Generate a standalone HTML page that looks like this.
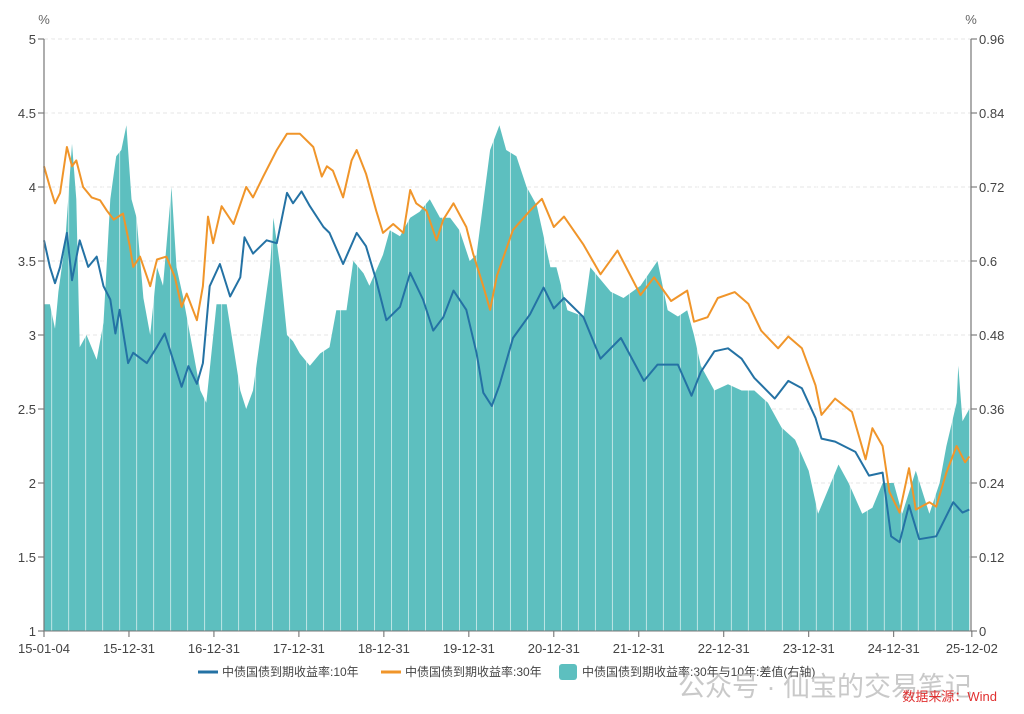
<!DOCTYPE html>
<html><head><meta charset="utf-8"><style>
html,body{margin:0;padding:0;background:#fff;}
body{width:1024px;height:714px;overflow:hidden;font-family:"Liberation Sans","Noto Sans CJK SC",sans-serif;}
</style></head><body>
<svg id="chart" width="1024" height="714" xmlns="http://www.w3.org/2000/svg" style="position:absolute;left:0;top:0">
<g id="grid"></g>
<g id="bars"></g>
<g id="lines"></g>
<g id="axes"></g>
<g id="legend">
  <line x1="198" y1="672" x2="218" y2="672" stroke="#2472a4" stroke-width="3"/>
  <text x="222" y="676" font-size="12" fill="#444">中债国债到期收益率:10年</text>
  <line x1="381" y1="672" x2="401" y2="672" stroke="#f0952a" stroke-width="3"/>
  <text x="405" y="676" font-size="12" fill="#444">中债国债到期收益率:30年</text>
  <rect x="559" y="664" width="18" height="16" rx="3" fill="#5dbfbf"/>
  <text x="582" y="676" font-size="12" fill="#444">中债国债到期收益率:30年与10年:差值(右轴)</text>
</g>
<text x="678" y="696" font-size="27" fill="#bbb" fill-opacity="0.8">公众号 · 仙宝的交易笔记</text>
<text x="997" y="701" font-size="13" fill="#e03030" text-anchor="end">数据来源：Wind</text>
</svg>
<script>
const leftTicks=[1,1.5,2,2.5,3,3.5,4,4.5,5];
const leftTickLabels=["1","1.5","2","2.5","3","3.5","4","4.5","5"];
const rightTicks=[0,0.12,0.24,0.36,0.48,0.6,0.72,0.84,0.96];
const rightTickLabels=["0","0.12","0.24","0.36","0.48","0.6","0.72","0.84","0.96"];
const xTicks=[2015.0,2016.0,2017.0,2018.0,2019.0,2020.0,2021.0,2022.0,2023.0,2024.0,2025.0,2025.92];
const xTickLabels=["15-01-04","15-12-31","16-12-31","17-12-31","18-12-31","19-12-31","20-12-31","21-12-31","22-12-31","23-12-31","24-12-31","25-12-02"];

const y10Dates=[2015.00,2015.07,2015.13,2015.19,2015.27,2015.33,2015.42,2015.52,2015.62,2015.70,2015.78,2015.84,2015.89,2015.99,2016.05,2016.21,2016.33,2016.42,2016.52,2016.62,2016.70,2016.80,2016.87,2016.95,2017.07,2017.19,2017.31,2017.36,2017.46,2017.62,2017.74,2017.86,2017.93,2018.03,2018.13,2018.29,2018.36,2018.52,2018.68,2018.79,2018.91,2019.03,2019.19,2019.31,2019.46,2019.58,2019.70,2019.82,2019.97,2020.09,2020.17,2020.27,2020.36,2020.52,2020.72,2020.88,2021.00,2021.12,2021.35,2021.55,2021.79,2022.06,2022.22,2022.46,2022.62,2022.73,2022.89,2023.05,2023.21,2023.36,2023.60,2023.76,2023.92,2024.08,2024.15,2024.31,2024.55,2024.71,2024.87,2024.97,2025.07,2025.18,2025.30,2025.50,2025.70,2025.81,2025.89];
const y10Values=[3.64,3.46,3.35,3.46,3.69,3.37,3.64,3.46,3.53,3.33,3.24,3.01,3.17,2.81,2.88,2.81,2.92,3.01,2.83,2.65,2.79,2.67,2.81,3.33,3.48,3.26,3.39,3.66,3.55,3.64,3.62,3.96,3.89,3.97,3.87,3.73,3.69,3.48,3.69,3.60,3.37,3.10,3.19,3.42,3.24,3.03,3.12,3.30,3.17,2.88,2.61,2.52,2.66,2.98,3.14,3.32,3.18,3.25,3.12,2.84,2.98,2.69,2.80,2.80,2.59,2.75,2.89,2.91,2.84,2.71,2.57,2.69,2.64,2.44,2.30,2.28,2.21,2.05,2.07,1.64,1.60,1.85,1.62,1.64,1.87,1.80,1.82];

const y30Dates=[2015.00,2015.07,2015.13,2015.19,2015.27,2015.33,2015.38,2015.46,2015.56,2015.66,2015.74,2015.82,2015.93,2016.01,2016.05,2016.13,2016.25,2016.33,2016.44,2016.54,2016.62,2016.68,2016.80,2016.87,2016.93,2016.99,2017.09,2017.23,2017.38,2017.46,2017.58,2017.74,2017.86,2018.01,2018.17,2018.27,2018.33,2018.40,2018.52,2018.62,2018.68,2018.79,2018.91,2018.99,2019.11,2019.23,2019.31,2019.38,2019.50,2019.62,2019.70,2019.82,2019.97,2020.05,2020.17,2020.25,2020.33,2020.52,2020.72,2020.86,2021.00,2021.12,2021.35,2021.55,2021.75,2022.02,2022.18,2022.38,2022.57,2022.65,2022.81,2022.93,2023.13,2023.29,2023.44,2023.64,2023.76,2023.92,2024.08,2024.15,2024.31,2024.51,2024.67,2024.75,2024.87,2024.95,2025.07,2025.18,2025.26,2025.42,2025.50,2025.62,2025.74,2025.84,2025.89];
const y30Values=[4.14,4.00,3.89,3.96,4.27,4.14,4.18,4.00,3.93,3.91,3.84,3.78,3.82,3.60,3.46,3.53,3.33,3.51,3.53,3.39,3.19,3.28,3.10,3.33,3.80,3.62,3.87,3.75,4.00,3.93,4.07,4.25,4.36,4.36,4.27,4.07,4.14,4.11,3.93,4.18,4.25,4.09,3.84,3.69,3.75,3.69,3.98,3.89,3.84,3.64,3.78,3.89,3.73,3.55,3.33,3.17,3.40,3.71,3.84,3.92,3.73,3.80,3.61,3.41,3.57,3.27,3.39,3.23,3.30,3.09,3.12,3.25,3.29,3.21,3.03,2.91,2.99,2.91,2.66,2.46,2.57,2.48,2.16,2.37,2.25,1.94,1.80,2.10,1.82,1.87,1.84,2.07,2.25,2.14,2.18];

const spreadDates=[2015.00,2015.07,2015.13,2015.17,2015.25,2015.33,2015.38,2015.42,2015.50,2015.62,2015.70,2015.78,2015.85,2015.91,2015.97,2016.03,2016.09,2016.17,2016.25,2016.33,2016.40,2016.50,2016.56,2016.64,2016.72,2016.84,2016.91,2017.03,2017.15,2017.23,2017.31,2017.38,2017.46,2017.54,2017.66,2017.70,2017.78,2017.86,2017.93,2018.01,2018.13,2018.25,2018.36,2018.44,2018.56,2018.64,2018.76,2018.83,2018.99,2019.07,2019.19,2019.31,2019.42,2019.54,2019.66,2019.78,2019.89,2020.01,2020.09,2020.25,2020.36,2020.44,2020.56,2020.68,2020.80,2020.88,2020.96,2021.03,2021.16,2021.35,2021.43,2021.55,2021.67,2021.82,2022.02,2022.22,2022.34,2022.46,2022.57,2022.65,2022.73,2022.89,2023.05,2023.21,2023.36,2023.52,2023.68,2023.84,2024.00,2024.11,2024.23,2024.35,2024.47,2024.63,2024.75,2024.87,2025.00,2025.10,2025.26,2025.42,2025.54,2025.62,2025.74,2025.76,2025.81,2025.89];
const spreadValues=[0.53,0.53,0.49,0.55,0.63,0.79,0.70,0.46,0.48,0.44,0.50,0.70,0.77,0.78,0.82,0.70,0.67,0.54,0.48,0.59,0.56,0.72,0.59,0.54,0.48,0.39,0.37,0.53,0.53,0.46,0.39,0.36,0.39,0.47,0.59,0.67,0.59,0.48,0.47,0.45,0.43,0.45,0.46,0.52,0.52,0.60,0.58,0.56,0.61,0.65,0.64,0.67,0.68,0.70,0.67,0.67,0.65,0.60,0.61,0.78,0.82,0.78,0.77,0.72,0.69,0.64,0.59,0.59,0.52,0.51,0.59,0.57,0.55,0.54,0.56,0.60,0.52,0.51,0.52,0.48,0.43,0.39,0.40,0.39,0.39,0.37,0.33,0.31,0.26,0.19,0.23,0.27,0.24,0.19,0.20,0.24,0.24,0.19,0.26,0.19,0.24,0.30,0.37,0.43,0.34,0.36];

const X0=44,X1=971,YT=39,YB=631,D0=2015.0,D1=2025.91;
function xs(d){return X0+(d-D0)/(D1-D0)*(X1-X0);}
function yl(v){return YB-(v-1)/4*(YB-YT);}
function yr(v){return YB-v/0.96*(YB-YT);}
const NS="http://www.w3.org/2000/svg";
function mk(tag,attrs,parent){const e=document.createElementNS(NS,tag);for(const k in attrs)e.setAttribute(k,attrs[k]);parent.appendChild(e);return e;}
const grid=document.getElementById('grid'),axes=document.getElementById('axes'),bars=document.getElementById('bars'),lines=document.getElementById('lines');

leftTicks.forEach((v,i)=>{
  if(i>0){const g=mk('line',{x1:X0,x2:X1,y1:yl(v),y2:yl(v),stroke:'#e6e6e6','stroke-dasharray':'4,3','stroke-width':1},grid);
  
  }
  const t=mk('line',{x1:X0-6,x2:X0,y1:yl(v),y2:yl(v),stroke:'#666'},axes);
  
  
  const l=mk('text',{x:X0-8,y:yl(v)+5,'font-size':13,fill:'#444','text-anchor':'end'},axes);l.textContent=leftTickLabels[i];
  
  
});
rightTicks.forEach((v,i)=>{
  const t=mk('line',{x1:X1,x2:X1+6,y1:yr(v),y2:yr(v),stroke:'#666'},axes);
  
  
  const l=mk('text',{x:X1+8,y:yr(v)+5,'font-size':13,fill:'#444'},axes);l.textContent=rightTickLabels[i];
  
  
});
xTicks.forEach((d,i)=>{
  const t=mk('line',{x1:xs(d),x2:xs(d),y1:YB,y2:YB+6,stroke:'#666'},axes);
  
  
  const l=mk('text',{x:xs(d),y:YB+22,'font-size':13,fill:'#444','text-anchor':'middle'},axes);l.textContent=xTickLabels[i];
  
  
});
[[X0,'left'],[X1,'right']].forEach(a=>{
  const ln=mk('line',{x1:a[0],x2:a[0],y1:YT,y2:YB,stroke:'#777','stroke-width':1.2},axes);
  
  
  const p=mk('text',{x:a[0],y:24,'font-size':13,fill:'#666','text-anchor':'middle'},axes);p.textContent='%';
  
  
});
const xb=mk('line',{x1:X0,x2:X1,y1:YB,y2:YB,stroke:'#777'},axes);



let p='M'+xs(spreadDates[0])+','+YB;
spreadDates.forEach((d,i)=>{p+=' L'+xs(d).toFixed(1)+','+yr(spreadValues[i]).toFixed(1);});
p+=' L'+xs(spreadDates[spreadDates.length-1])+','+YB+' Z';
const area=mk('path',{d:p,fill:'#5dbfbf'},bars);


for(let d=D0+0.09;d<D1-0.05;d+=0.2){
  const s=mk('line',{x1:xs(d),x2:xs(d),y1:YT,y2:YB,stroke:'#fff','stroke-width':1,'stroke-opacity':0.6},bars);
  
  
}

function line(ds,vs,color,name){
  const pts=ds.map((d,i)=>xs(d).toFixed(1)+','+yl(vs[i]).toFixed(1)).join(' ');
  const e=mk('polyline',{points:pts,fill:'none',stroke:color,'stroke-width':2,'stroke-linejoin':'round'},lines);
  
  
}
line(y30Dates,y30Values,'#f0952a','line-30y');
line(y10Dates,y10Values,'#2472a4','line-10y');
</script>
</body></html>
